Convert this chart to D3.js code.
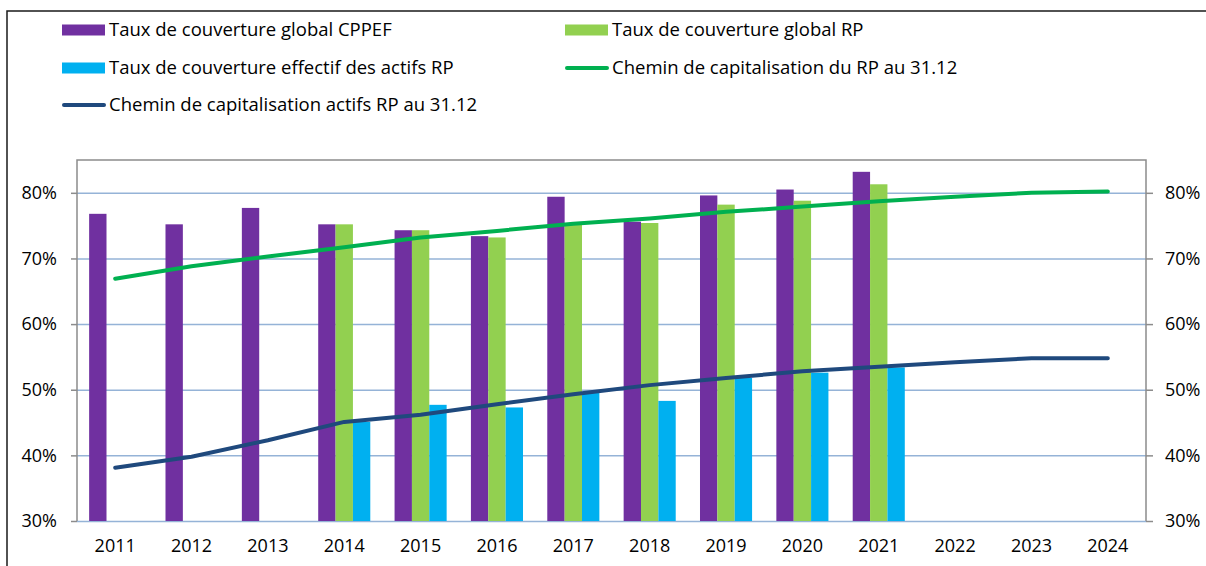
<!DOCTYPE html>
<html>
<head>
<meta charset="utf-8">
<script src="https://cdn.jsdelivr.net/npm/d3@7"></script>
<style>
  body { margin: 0; background: #fff; }
  text { font-family: "Open Sans", sans-serif; fill: #000; }
</style>
</head>
<body>
<div id="chart"></div>
<script>
// Data
const years = ["2011", "2012", "2013", "2014", "2015", "2016", "2017", "2018", "2019", "2020", "2021", "2022", "2023", "2024"];
const cppef = [76.8, 75.2, 77.7, 75.2, 74.3, 73.4, 79.4, 75.6, 79.6, 80.5, 83.2, null, null, null];
const globalRP = [null, null, null, 75.2, 74.3, 73.2, 75.3, 75.4, 78.2, 78.8, 81.3, null, null, null];
const effectifRP = [null, null, null, 45.1, 47.7, 47.3, 49.5, 48.3, 51.8, 52.6, 53.4, null, null, null];
const cheminRP = [66.9, 68.8, 70.3, 71.7, 73.2, 74.2, 75.3, 76.1, 77.1, 77.9, 78.7, 79.4, 80.0, 80.2];
const cheminActifs = [38.1, 39.8, 42.3, 45.1, 46.2, 47.8, 49.3, 50.7, 51.8, 52.8, 53.5, 54.2, 54.8, 54.8];
const yTicks = [30, 40, 50, 60, 70, 80];

const barSeries = [
    { name: "Taux de couverture global CPPEF", values: cppef, color: "#7030A0" },
    { name: "Taux de couverture global RP", values: globalRP, color: "#92D050" },
    { name: "Taux de couverture effectif des actifs RP", values: effectifRP, color: "#00B0F0" }
];
const lineSeries = [
    { name: "Chemin de capitalisation du RP au 31.12", values: cheminRP, color: "#00B050" },
    { name: "Chemin de capitalisation actifs RP au 31.12", values: cheminActifs, color: "#1F497D" }
];

const svg = d3.select("#chart").append("svg")
    .attr("width", 1206)
    .attr("height", 566);

// Outer frame (runs off the bottom/right of the picture)
svg.append("path")
    .attr("d", "M7,580 V11 H1220")
    .attr("fill", "none")
    .attr("stroke", "#1a1a1a")
    .attr("stroke-width", 1.5);

const plot = { left: 77, right: 1146, top: 160, bottom: 521 };

const x0 = d3.scaleBand()
    .domain(years)
    .range([plot.left, plot.right])
    .paddingInner(0.318)
    .paddingOuter(0.159);

const x1 = d3.scaleBand()
    .domain(barSeries.map(d => d.name))
    .range([0, x0.bandwidth()]);

const y = d3.scaleLinear()
    .domain([30, 85])
    .range([plot.bottom, plot.top]);

// Gridlines
svg.append("g")
    .attr("transform", `translate(${plot.left},0)`)
    .call(d3.axisLeft(y).tickValues(yTicks).tickSize(-(plot.right - plot.left)).tickFormat(""))
    .call(g => g.select(".domain").remove())
    .call(g => g.selectAll("line").attr("stroke", "#95B3D7").attr("stroke-width", 1.5));

// Bars
const groups = svg.append("g").selectAll("g")
    .data(barSeries)
    .join("g")
    .attr("fill", d => d.color);

groups.selectAll("rect")
    .data(s => s.values.map((v, i) => ({ name: s.name, year: years[i], v })).filter(d => d.v != null))
    .join("rect")
    .attr("x", d => x0(d.year) + x1(d.name))
    .attr("y", d => y(d.v))
    .attr("width", x1.bandwidth())
    .attr("height", d => y(30) - y(d.v));

// Lines
const line = d3.line()
    .x((d, i) => x0(years[i]) + x0.bandwidth() / 2)
    .y(d => y(d));

svg.append("g").selectAll("path")
    .data(lineSeries)
    .join("path")
    .attr("d", d => line(d.values))
    .attr("fill", "none")
    .attr("stroke", d => d.color)
    .attr("stroke-width", 4)
    .attr("stroke-linecap", "round")
    .attr("stroke-linejoin", "round");

// Plot frame (top, left, right in gray)
svg.append("path")
    .attr("d", `M${plot.left},${plot.bottom} V${plot.top} H${plot.right} V${plot.bottom}`)
    .attr("fill", "none")
    .attr("stroke", "#8c8c8c")
    .attr("stroke-width", 1.5);

// Left axis
svg.append("g")
    .attr("transform", `translate(${plot.left},0)`)
    .call(d3.axisLeft(y).tickValues(yTicks).tickSize(6).tickPadding(14).tickFormat(d => d + "%"))
    .call(g => g.select(".domain").remove())
    .call(g => g.selectAll("line").attr("stroke", "#8c8c8c").attr("stroke-width", 1.5))
    .call(g => g.selectAll("text").attr("font-size", 18).attr("font-family", "Open Sans").attr("fill", "#000"));

// Right axis
svg.append("g")
    .attr("transform", `translate(${plot.right},0)`)
    .call(d3.axisRight(y).tickValues(yTicks).tickSize(7).tickPadding(12).tickFormat(d => d + "%"))
    .call(g => g.select(".domain").remove())
    .call(g => g.selectAll("line").attr("stroke", "#8c8c8c").attr("stroke-width", 1.5))
    .call(g => g.selectAll("text").attr("font-size", 18).attr("font-family", "Open Sans").attr("fill", "#000"));

// Bottom axis (labels only)
svg.append("g")
    .attr("transform", `translate(0,${plot.bottom})`)
    .call(d3.axisBottom(x0).tickSize(0).tickPadding(18))
    .call(g => g.select(".domain").remove())
    .call(g => g.selectAll("text").attr("font-size", 18).attr("font-family", "Open Sans").attr("fill", "#000"));

// Legend
const legendItems = [
    { s: barSeries[0], type: "bar", x: 62, y: 30 },
    { s: barSeries[1], type: "bar", x: 565, y: 30 },
    { s: barSeries[2], type: "bar", x: 62, y: 68 },
    { s: lineSeries[0], type: "line", x: 565, y: 68 },
    { s: lineSeries[1], type: "line", x: 62, y: 105 }
];

const legend = svg.append("g").selectAll("g")
    .data(legendItems)
    .join("g")
    .attr("transform", d => `translate(${d.x},${d.y})`);

legend.filter(d => d.type === "bar").append("rect")
    .attr("x", 0).attr("y", -5.5)
    .attr("width", 43).attr("height", 11)
    .attr("fill", d => d.s.color);

legend.filter(d => d.type === "line").append("line")
    .attr("x1", 2).attr("x2", 42)
    .attr("stroke", d => d.s.color)
    .attr("stroke-width", 4)
    .attr("stroke-linecap", "round");

legend.append("text")
    .attr("x", 47)
    .attr("dy", "0.35em")
    .attr("font-size", 18.5)
    .text(d => d.s.name);
</script>
</body>
</html>
